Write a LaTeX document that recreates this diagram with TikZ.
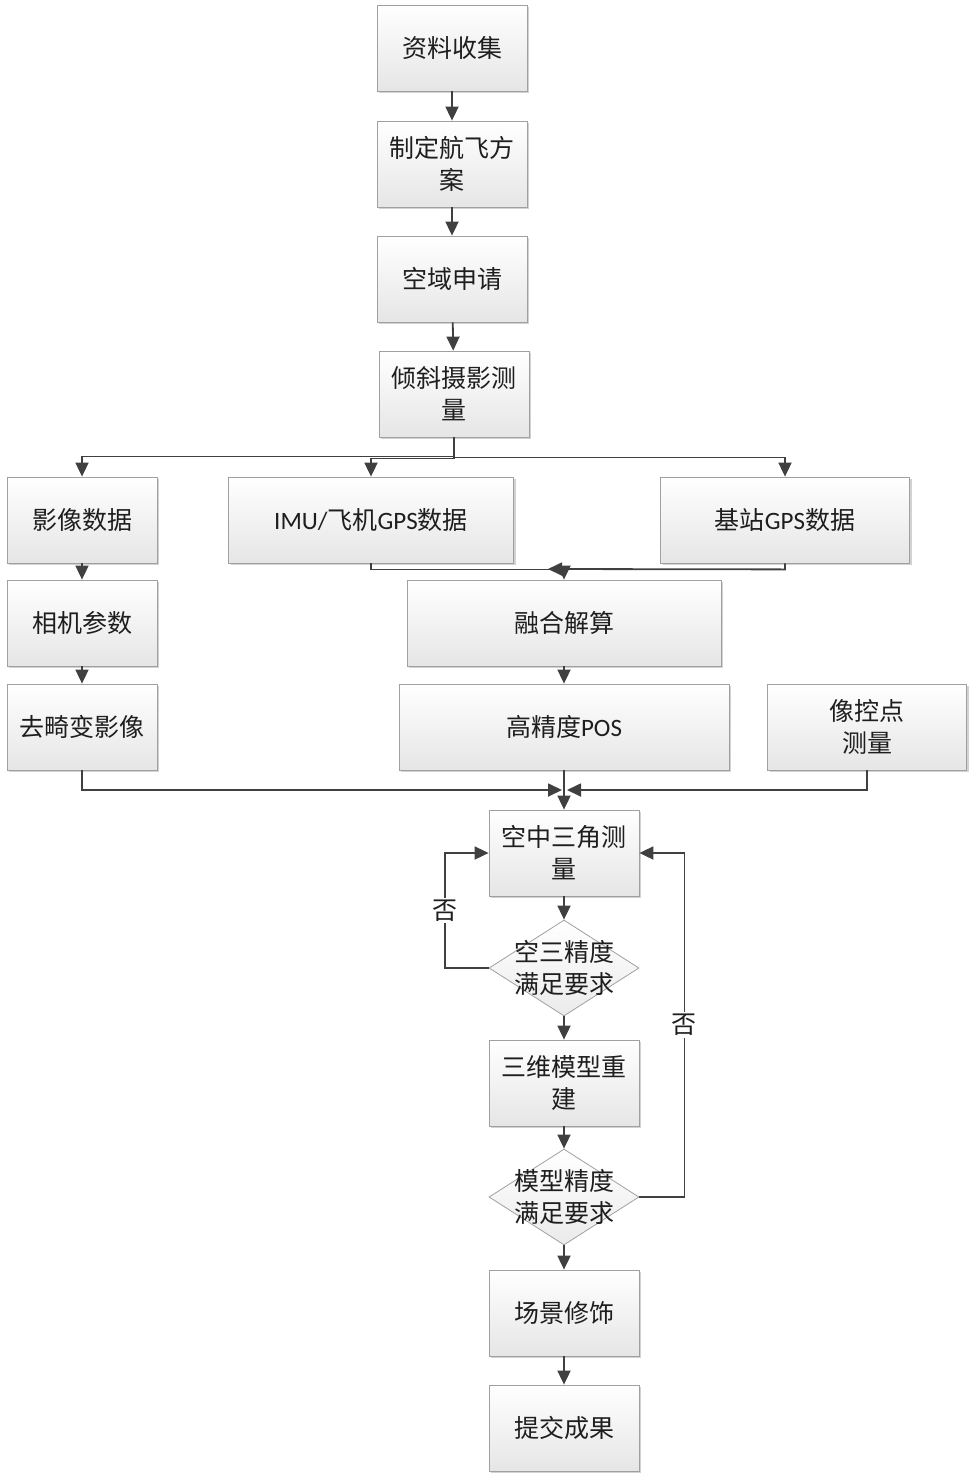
\documentclass[tikz,border=0pt]{standalone}
\usepackage{fontspec}
\setmainfont{Noto Sans CJK SC}
\newfontfamily\lat{Carlito}
\usetikzlibrary{shapes.geometric,arrows.meta,shadows}
\definecolor{flowline}{RGB}{64,64,64}
\definecolor{flowborder}{RGB}{160,160,160}
\definecolor{flowtext}{RGB}{30,30,30}

\begin{document}
\begin{tikzpicture}[x=1pt,y=-1pt]

%
% Styles
%
\tikzstyle{step box} = [rectangle,draw=flowborder,line width=0.8pt,top color=white,bottom color=black!10,
  minimum width=150,minimum height=86,align=center,text=flowtext,
  font=\fontsize{25}{32}\selectfont,
  drop shadow={shadow xshift=2pt,shadow yshift=-2pt,fill=black!35,opacity=0.5}]
\tikzstyle{check} = [diamond,aspect=1.56,draw=flowborder,line width=0.8pt,top color=white,bottom color=black!8,
  minimum width=150,minimum height=96,inner xsep=-30pt,inner ysep=-20pt,align=center,
  text=flowtext,font=\fontsize{25}{32}\selectfont]
\tikzstyle{flow} = [draw=flowline,line width=1.8pt,-{Triangle[length=14pt,width=13pt]}]
\tikzstyle{no} = [fill=white,text=flowtext,font=\fontsize{25}{30}\selectfont,inner sep=2pt]

\useasboundingbox (0,0) rectangle (978,1483);

\node[step box] (collect) at (452, 48)  {资料收集};
\node[step box] (plan)    at (452,164)  {制定航飞方\\案};
\node[step box] (airspace) at (452,279) {空域申请};
\node[step box] (oblique) at (454,394)  {倾斜摄影测\\量};

\node[step box] (image) at ( 82,520) {影像数据};
\node[step box,minimum width=285] (imu) at (371,520) {{\lat IMU/}飞机{\lat GPS}数据};
\node[step box,minimum width=249] (base) at (785,520) {基站{\lat GPS}数据};

\node[step box] (camera) at ( 82,623) {相机参数};
\node[step box,minimum width=314] (fusion) at (564,623) {融合解算};

\node[step box] (undistort) at ( 82,727) {去畸变影像};
\node[step box,minimum width=330] (pos) at (564,727) {高精度{\lat POS}};
\node[step box,minimum width=199] (gcp) at (867,727) {像控点\\测量};

\node[step box] (aat)    at (564, 853) {空中三角测\\量};
\node[check]    (aatok)  at (564, 968) {空三精度\\满足要求};
\node[step box] (model)  at (564,1083) {三维模型重\\建};
\node[check]    (modelok) at (564,1197) {模型精度\\满足要求};
\node[step box] (scene)  at (564,1313) {场景修饰};
\node[step box] (submit) at (564,1428) {提交成果};

\coordinate (joinbase) at (548,569);
\coordinate (joinleft) at (562,790);
\coordinate (joinright) at (567,790);

\draw[flow] (collect) -- (plan);
\draw[flow] (plan) -- (airspace);
\draw[flow] (airspace) -- (oblique);
\draw[flow] (oblique.south) -- ++(0,19) -| (image.north);
\draw[flow] (oblique.south) -- ++(0,21) -| (imu.north);
\draw[flow] (oblique.south) -- ++(0,20) -| (base.north);
\draw[flow] (image) -- (camera);
\draw[flow] (camera) -- (undistort);
\draw[flow] (imu.south) -- ++(0,6) -| (fusion.north);
\draw[flow] (base.south) -- ++(0,6) -- (joinbase);
\draw[flow] (fusion) -- (pos);
\draw[flow] (undistort.south) |- (joinleft);
\draw[flow] (gcp.south) |- (joinright);
\draw[flow] (pos) -- (aat);
\draw[flow] (aat) -- (aatok);
\draw[flow] (aatok.west) -- ++(-44,0) |- node[no,pos=0.25] {否} (aat.west);
\draw[flow] (aatok) -- (model);
\draw[flow] (model) -- (modelok);
\draw[flow] (modelok.east) -- ++(45,0) |- node[no,pos=0.25] {否} (aat.east);
\draw[flow] (modelok) -- (scene);
\draw[flow] (scene) -- (submit);

\end{tikzpicture}
\end{document}
